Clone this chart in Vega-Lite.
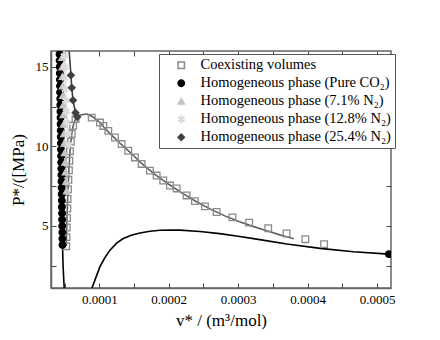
{
  "$schema": "https://vega.github.io/schema/vega-lite/v6.json",
  "width": 340,
  "height": 237,
  "autosize": {"type": "none"},
  "padding": {"left": 51, "top": 51, "right": 49, "bottom": 52},
  "background": "white",
  "config": {
    "view": {"stroke": "#666666", "strokeWidth": 1.5},
    "font": "Liberation Serif",
    "axis": {
      "labelFont": "Liberation Serif",
      "titleFont": "Liberation Serif",
      "labelFontSize": 13,
      "titleFontSize": 17,
      "titleFontWeight": "normal",
      "labelColor": "black",
      "titleColor": "black",
      "domainColor": "#666666",
      "domainWidth": 1.5,
      "tickColor": "#444444",
      "tickSize": -5,
      "labelOverlap": false,
      "grid": false
    },
    "legend": {
      "labelFont": "Liberation Serif",
      "labelFontSize": 14.5,
      "labelColor": "black",
      "labelLimit": 400
    }
  },
  "datasets": {
    "lines": [
      {"curve": "co2_liq", "v": 0.0000426, "P": 16.1},
      {"curve": "co2_liq", "v": 0.0000436, "P": 13.6},
      {"curve": "co2_liq", "v": 0.0000449, "P": 9.8},
      {"curve": "co2_liq", "v": 0.0000462, "P": 6.2},
      {"curve": "co2_liq", "v": 0.0000471, "P": 3.7},
      {"curve": "co2_liq", "v": 0.0000479, "P": 2.5},
      {"curve": "co2_liq", "v": 0.0000496, "P": 1.0},
      {"curve": "co2_vap", "v": 0.0000885, "P": 0.9},
      {"curve": "co2_vap", "v": 0.0000895, "P": 1.1},
      {"curve": "co2_vap", "v": 0.0000955, "P": 1.8},
      {"curve": "co2_vap", "v": 0.000101, "P": 2.44},
      {"curve": "co2_vap", "v": 0.000108, "P": 3.0},
      {"curve": "co2_vap", "v": 0.0001154, "P": 3.48},
      {"curve": "co2_vap", "v": 0.000125, "P": 3.92},
      {"curve": "co2_vap", "v": 0.0001345, "P": 4.21},
      {"curve": "co2_vap", "v": 0.000146, "P": 4.42},
      {"curve": "co2_vap", "v": 0.0001586, "P": 4.56},
      {"curve": "co2_vap", "v": 0.000173, "P": 4.67},
      {"curve": "co2_vap", "v": 0.0001874, "P": 4.73},
      {"curve": "co2_vap", "v": 0.000202, "P": 4.75},
      {"curve": "co2_vap", "v": 0.000216, "P": 4.74},
      {"curve": "co2_vap", "v": 0.000245, "P": 4.65},
      {"curve": "co2_vap", "v": 0.0002734, "P": 4.52},
      {"curve": "co2_vap", "v": 0.0003, "P": 4.35},
      {"curve": "co2_vap", "v": 0.000331, "P": 4.14},
      {"curve": "co2_vap", "v": 0.00037, "P": 3.87},
      {"curve": "co2_vap", "v": 0.000418, "P": 3.59},
      {"curve": "co2_vap", "v": 0.000466, "P": 3.38},
      {"curve": "co2_vap", "v": 0.000517, "P": 3.23},
      {"curve": "co2_vap", "v": 0.00052, "P": 3.22},
      {"curve": "n7", "v": 0.0000464, "P": 16.1},
      {"curve": "n7", "v": 0.0000466, "P": 15.6},
      {"curve": "n7", "v": 0.0000471, "P": 14.4},
      {"curve": "n7", "v": 0.0000477, "P": 13.2},
      {"curve": "n7", "v": 0.0000484, "P": 12.0},
      {"curve": "n7", "v": 0.0000492, "P": 10.8},
      {"curve": "n7", "v": 0.0000502, "P": 9.6},
      {"curve": "n7", "v": 0.0000515, "P": 8.4},
      {"curve": "n7", "v": 0.0000532, "P": 7.2},
      {"curve": "n12", "v": 0.0000496, "P": 16.1},
      {"curve": "n12", "v": 0.0000498, "P": 15.7},
      {"curve": "n12", "v": 0.0000507, "P": 14.3},
      {"curve": "n12", "v": 0.0000518, "P": 12.9},
      {"curve": "n12", "v": 0.0000536, "P": 11.5},
      {"curve": "n12", "v": 0.0000562, "P": 10.1},
      {"curve": "n25", "v": 0.0000565, "P": 16.1},
      {"curve": "n25", "v": 0.0000592, "P": 14.48},
      {"curve": "n25", "v": 0.0000604, "P": 13.69},
      {"curve": "n25", "v": 0.0000622, "P": 12.9},
      {"curve": "n25", "v": 0.0000658, "P": 12.12},
      {"curve": "n25", "v": 0.0000683, "P": 11.85},
      {"curve": "dome", "v": 0.0000525, "P": 3.73},
      {"curve": "dome", "v": 0.0000531, "P": 4.9},
      {"curve": "dome", "v": 0.000054, "P": 6.1},
      {"curve": "dome", "v": 0.000055, "P": 7.3},
      {"curve": "dome", "v": 0.0000563, "P": 8.5},
      {"curve": "dome", "v": 0.0000578, "P": 9.7},
      {"curve": "dome", "v": 0.0000604, "P": 10.8},
      {"curve": "dome", "v": 0.0000624, "P": 11.3},
      {"curve": "dome", "v": 0.0000658, "P": 11.73},
      {"curve": "dome", "v": 0.0000722, "P": 11.98},
      {"curve": "dome", "v": 0.0000823, "P": 12.04},
      {"curve": "dome", "v": 0.00009, "P": 11.88},
      {"curve": "dome", "v": 0.0001, "P": 11.55},
      {"curve": "dome", "v": 0.00011, "P": 11.05},
      {"curve": "dome", "v": 0.00012, "P": 10.62},
      {"curve": "dome", "v": 0.00013, "P": 10.2},
      {"curve": "dome", "v": 0.00014, "P": 9.8},
      {"curve": "dome", "v": 0.00015, "P": 9.4},
      {"curve": "dome", "v": 0.00016, "P": 8.97},
      {"curve": "dome", "v": 0.00017, "P": 8.6},
      {"curve": "dome", "v": 0.00018, "P": 8.25},
      {"curve": "dome", "v": 0.00019, "P": 7.93},
      {"curve": "dome", "v": 0.0002, "P": 7.62},
      {"curve": "dome", "v": 0.00022, "P": 7.05},
      {"curve": "dome", "v": 0.00024, "P": 6.52},
      {"curve": "dome", "v": 0.00026, "P": 6.06},
      {"curve": "dome", "v": 0.00028, "P": 5.65},
      {"curve": "dome", "v": 0.0003, "P": 5.3},
      {"curve": "dome", "v": 0.00032, "P": 4.99},
      {"curve": "dome", "v": 0.00034, "P": 4.71},
      {"curve": "dome", "v": 0.00036, "P": 4.44},
      {"curve": "dome", "v": 0.00038, "P": 4.2}
    ],
    "points": [
      {"series": "Coexisting volumes", "v": 0.0000525, "P": 3.73},
      {"series": "Coexisting volumes", "v": 0.0000528, "P": 4.3},
      {"series": "Coexisting volumes", "v": 0.0000531, "P": 4.9},
      {"series": "Coexisting volumes", "v": 0.0000535, "P": 5.5},
      {"series": "Coexisting volumes", "v": 0.000054, "P": 6.1},
      {"series": "Coexisting volumes", "v": 0.0000544, "P": 6.7},
      {"series": "Coexisting volumes", "v": 0.000055, "P": 7.3},
      {"series": "Coexisting volumes", "v": 0.0000555, "P": 7.9},
      {"series": "Coexisting volumes", "v": 0.0000563, "P": 8.5},
      {"series": "Coexisting volumes", "v": 0.000057, "P": 9.1},
      {"series": "Coexisting volumes", "v": 0.0000578, "P": 9.7},
      {"series": "Coexisting volumes", "v": 0.000059, "P": 10.3},
      {"series": "Coexisting volumes", "v": 0.0000604, "P": 10.8},
      {"series": "Coexisting volumes", "v": 0.0000624, "P": 11.3},
      {"series": "Coexisting volumes", "v": 0.0000658, "P": 11.73},
      {"series": "Coexisting volumes", "v": 0.0000891, "P": 11.81},
      {"series": "Coexisting volumes", "v": 0.000101, "P": 11.5},
      {"series": "Coexisting volumes", "v": 0.0001058, "P": 11.29},
      {"series": "Coexisting volumes", "v": 0.000113, "P": 10.98},
      {"series": "Coexisting volumes", "v": 0.0001226, "P": 10.56},
      {"series": "Coexisting volumes", "v": 0.0001322, "P": 10.15},
      {"series": "Coexisting volumes", "v": 0.0001417, "P": 9.73},
      {"series": "Coexisting volumes", "v": 0.0001514, "P": 9.31},
      {"series": "Coexisting volumes", "v": 0.000161, "P": 8.9},
      {"series": "Coexisting volumes", "v": 0.0001729, "P": 8.48},
      {"series": "Coexisting volumes", "v": 0.0001826, "P": 8.17},
      {"series": "Coexisting volumes", "v": 0.0001921, "P": 7.86},
      {"series": "Coexisting volumes", "v": 0.0002017, "P": 7.54},
      {"series": "Coexisting volumes", "v": 0.0002114, "P": 7.36},
      {"series": "Coexisting volumes", "v": 0.0002257, "P": 6.92},
      {"series": "Coexisting volumes", "v": 0.0002377, "P": 6.56},
      {"series": "Coexisting volumes", "v": 0.0002521, "P": 6.23},
      {"series": "Coexisting volumes", "v": 0.0002689, "P": 5.88},
      {"series": "Coexisting volumes", "v": 0.0002917, "P": 5.54},
      {"series": "Coexisting volumes", "v": 0.0003158, "P": 5.21},
      {"series": "Coexisting volumes", "v": 0.0003432, "P": 4.86},
      {"series": "Coexisting volumes", "v": 0.0003696, "P": 4.53},
      {"series": "Coexisting volumes", "v": 0.0003967, "P": 4.17},
      {"series": "Coexisting volumes", "v": 0.0004237, "P": 3.86},
      {"series": "Homogeneous phase (Pure CO₂)", "v": 0.00004706, "P": 3.8},
      {"series": "Homogeneous phase (Pure CO₂)", "v": 0.0000469, "P": 4.2},
      {"series": "Homogeneous phase (Pure CO₂)", "v": 0.0000468, "P": 4.6},
      {"series": "Homogeneous phase (Pure CO₂)", "v": 0.0000466, "P": 5.0},
      {"series": "Homogeneous phase (Pure CO₂)", "v": 0.0000465, "P": 5.4},
      {"series": "Homogeneous phase (Pure CO₂)", "v": 0.0000464, "P": 5.8},
      {"series": "Homogeneous phase (Pure CO₂)", "v": 0.0000462, "P": 6.2},
      {"series": "Homogeneous phase (Pure CO₂)", "v": 0.0000461, "P": 6.6},
      {"series": "Homogeneous phase (Pure CO₂)", "v": 0.0000459, "P": 7.0},
      {"series": "Homogeneous phase (Pure CO₂)", "v": 0.0000458, "P": 7.4},
      {"series": "Homogeneous phase (Pure CO₂)", "v": 0.0000456, "P": 7.8},
      {"series": "Homogeneous phase (Pure CO₂)", "v": 0.0000455, "P": 8.2},
      {"series": "Homogeneous phase (Pure CO₂)", "v": 0.0000454, "P": 8.6},
      {"series": "Homogeneous phase (Pure CO₂)", "v": 0.0000452, "P": 9.0},
      {"series": "Homogeneous phase (Pure CO₂)", "v": 0.0000451, "P": 9.4},
      {"series": "Homogeneous phase (Pure CO₂)", "v": 0.0000449, "P": 9.8},
      {"series": "Homogeneous phase (Pure CO₂)", "v": 0.0000448, "P": 10.2},
      {"series": "Homogeneous phase (Pure CO₂)", "v": 0.0000446, "P": 10.6},
      {"series": "Homogeneous phase (Pure CO₂)", "v": 0.0000445, "P": 11.0},
      {"series": "Homogeneous phase (Pure CO₂)", "v": 0.0000444, "P": 11.4},
      {"series": "Homogeneous phase (Pure CO₂)", "v": 0.0000442, "P": 11.8},
      {"series": "Homogeneous phase (Pure CO₂)", "v": 0.0000441, "P": 12.2},
      {"series": "Homogeneous phase (Pure CO₂)", "v": 0.0000439, "P": 12.6},
      {"series": "Homogeneous phase (Pure CO₂)", "v": 0.0000438, "P": 13.0},
      {"series": "Homogeneous phase (Pure CO₂)", "v": 0.0000436, "P": 13.4},
      {"series": "Homogeneous phase (Pure CO₂)", "v": 0.0000435, "P": 13.8},
      {"series": "Homogeneous phase (Pure CO₂)", "v": 0.0000434, "P": 14.2},
      {"series": "Homogeneous phase (Pure CO₂)", "v": 0.0000432, "P": 14.6},
      {"series": "Homogeneous phase (Pure CO₂)", "v": 0.0000431, "P": 15.0},
      {"series": "Homogeneous phase (Pure CO₂)", "v": 0.0000429, "P": 15.4},
      {"series": "Homogeneous phase (Pure CO₂)", "v": 0.0000428, "P": 15.8},
      {"series": "Homogeneous phase (Pure CO₂)", "v": 0.000517, "P": 3.23},
      {"series": "Homogeneous phase (7.1% N₂)", "v": 0.0000466, "P": 15.6},
      {"series": "Homogeneous phase (7.1% N₂)", "v": 0.0000468, "P": 15.0},
      {"series": "Homogeneous phase (7.1% N₂)", "v": 0.0000471, "P": 14.4},
      {"series": "Homogeneous phase (7.1% N₂)", "v": 0.0000474, "P": 13.8},
      {"series": "Homogeneous phase (7.1% N₂)", "v": 0.0000477, "P": 13.2},
      {"series": "Homogeneous phase (7.1% N₂)", "v": 0.000048, "P": 12.6},
      {"series": "Homogeneous phase (7.1% N₂)", "v": 0.0000484, "P": 12.0},
      {"series": "Homogeneous phase (7.1% N₂)", "v": 0.0000488, "P": 11.4},
      {"series": "Homogeneous phase (7.1% N₂)", "v": 0.0000492, "P": 10.8},
      {"series": "Homogeneous phase (7.1% N₂)", "v": 0.0000497, "P": 10.2},
      {"series": "Homogeneous phase (7.1% N₂)", "v": 0.0000502, "P": 9.6},
      {"series": "Homogeneous phase (7.1% N₂)", "v": 0.0000508, "P": 9.0},
      {"series": "Homogeneous phase (7.1% N₂)", "v": 0.0000515, "P": 8.4},
      {"series": "Homogeneous phase (7.1% N₂)", "v": 0.0000523, "P": 7.8},
      {"series": "Homogeneous phase (7.1% N₂)", "v": 0.0000532, "P": 7.2},
      {"series": "Homogeneous phase (12.8% N₂)", "v": 0.0000498, "P": 15.7},
      {"series": "Homogeneous phase (12.8% N₂)", "v": 0.0000502, "P": 15.0},
      {"series": "Homogeneous phase (12.8% N₂)", "v": 0.0000507, "P": 14.3},
      {"series": "Homogeneous phase (12.8% N₂)", "v": 0.0000512, "P": 13.6},
      {"series": "Homogeneous phase (12.8% N₂)", "v": 0.0000518, "P": 12.9},
      {"series": "Homogeneous phase (12.8% N₂)", "v": 0.0000526, "P": 12.2},
      {"series": "Homogeneous phase (12.8% N₂)", "v": 0.0000536, "P": 11.5},
      {"series": "Homogeneous phase (12.8% N₂)", "v": 0.0000548, "P": 10.8},
      {"series": "Homogeneous phase (12.8% N₂)", "v": 0.0000562, "P": 10.1},
      {"series": "Homogeneous phase (25.4% N₂)", "v": 0.0000592, "P": 14.48},
      {"series": "Homogeneous phase (25.4% N₂)", "v": 0.0000604, "P": 13.69},
      {"series": "Homogeneous phase (25.4% N₂)", "v": 0.0000622, "P": 12.9},
      {"series": "Homogeneous phase (25.4% N₂)", "v": 0.0000658, "P": 12.12},
      {"series": "Homogeneous phase (25.4% N₂)", "v": 0.0000683, "P": 11.85}
    ]
  },
  "layer": [
    {
      "data": {"name": "lines"},
      "mark": {"type": "line", "clip": true, "strokeWidth": 1.6},
      "encoding": {
        "x": {
          "field": "v", "type": "quantitative",
          "scale": {"domain": [0.0000305, 0.00052], "nice": false, "zero": false},
          "axis": {
            "orient": "bottom",
            "title": "v* /  (m³/mol)",
            "values": [0.00005, 0.0001, 0.00015, 0.0002, 0.00025, 0.0003, 0.00035, 0.0004, 0.00045, 0.0005],
            "labelExpr": "abs(datum.value * 10000 - round(datum.value * 10000)) < 0.01 ? format(datum.value, '.4f') : ''",
            "labelPadding": 10,
            "titlePadding": 6
          }
        },
        "y": {
          "field": "P", "type": "quantitative",
          "scale": {"domain": [1.1, 16], "nice": false, "zero": false},
          "axis": {
            "orient": "left",
            "title": "P*/([MPa)",
            "values": [2.5, 5, 7.5, 10, 12.5, 15],
            "labelExpr": "datum.value % 5 == 0 ? datum.label : ''",
            "labelPadding": 8,
            "titlePadding": 8
          }
        },
        "detail": {"field": "curve"},
        "color": {
          "field": "curve", "type": "nominal",
          "scale": {
            "domain": ["co2_liq", "co2_vap", "n7", "n12", "n25", "dome"],
            "range": ["#000000", "#000000", "#c4c4c4", "#dcdcdc", "#404040", "#606060"]
          },
          "legend": null
        }
      }
    },
    {
      "data": {"name": "points"},
      "mark": {"type": "point", "clip": true, "size": 44, "strokeWidth": 1.3, "opacity": 1},
      "encoding": {
        "x": {
          "field": "v", "type": "quantitative",
          "axis": {"orient": "top", "labels": false, "title": null, "domain": false, "values": [0.00005, 0.0001, 0.00015, 0.0002, 0.00025, 0.0003, 0.00035, 0.0004, 0.00045, 0.0005]}
        },
        "y": {
          "field": "P", "type": "quantitative",
          "axis": {"orient": "right", "labels": false, "title": null, "domain": false, "values": [2.5, 5, 7.5, 10, 12.5, 15]}
        },
        "shape": {
          "field": "series", "type": "nominal",
          "scale": {
            "domain": ["Coexisting volumes", "Homogeneous phase (Pure CO₂)", "Homogeneous phase (7.1% N₂)", "Homogeneous phase (12.8% N₂)", "Homogeneous phase (25.4% N₂)"],
            "range": ["square", "circle", "triangle-up", "M-0.15,-1L0.15,-1L0.15,1L-0.15,1Z M0.791,-0.63L0.941,-0.37L-0.791,0.63L-0.941,0.37Z M0.941,0.37L0.791,0.63L-0.941,-0.37L-0.791,-0.63Z", "diamond"]
          },
          "legend": {"title": null, "orient": "none", "legendX": 108, "legendY": 3, "strokeColor": "#555555", "padding": 4, "symbolOffset": 11, "labelOffset": 12, "rowPadding": 3, "symbolSize": 40, "fillColor": "white"}
        },
        "fill": {
          "field": "series", "type": "nominal",
          "scale": {
            "domain": ["Coexisting volumes", "Homogeneous phase (Pure CO₂)", "Homogeneous phase (7.1% N₂)", "Homogeneous phase (12.8% N₂)", "Homogeneous phase (25.4% N₂)"],
            "range": ["transparent", "#000000", "#c4c4c4", "#dcdcdc", "#404040"]
          },
          "legend": {"title": null, "orient": "none", "legendX": 108, "legendY": 3, "strokeColor": "#555555", "padding": 4, "symbolOffset": 11, "labelOffset": 12, "rowPadding": 3, "symbolSize": 40, "fillColor": "white"}
        },
        "stroke": {
          "field": "series", "type": "nominal",
          "scale": {
            "domain": ["Coexisting volumes", "Homogeneous phase (Pure CO₂)", "Homogeneous phase (7.1% N₂)", "Homogeneous phase (12.8% N₂)", "Homogeneous phase (25.4% N₂)"],
            "range": ["#8a8a8a", "#000000", "#c4c4c4", "#dcdcdc", "#404040"]
          },
          "legend": {"title": null, "orient": "none", "legendX": 108, "legendY": 3, "strokeColor": "#555555", "padding": 4, "symbolOffset": 11, "labelOffset": 12, "rowPadding": 3, "symbolSize": 40, "fillColor": "white"}
        }
      }
    }
  ],
  "resolve": {"axis": {"x": "independent", "y": "independent"}}
}
